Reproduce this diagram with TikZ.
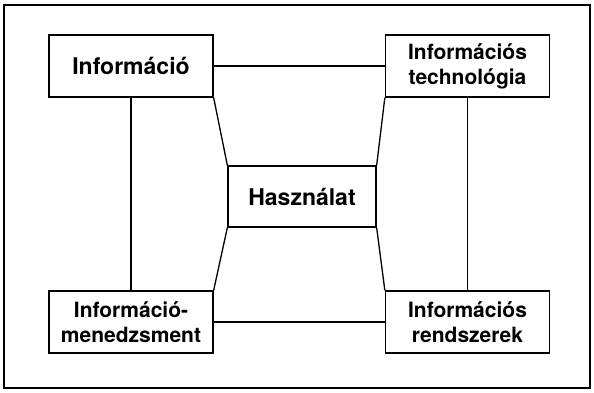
\documentclass[tikz,border=0pt]{standalone}
\usepackage{fontspec}
\setmainfont{TeX Gyre Heros}
\begin{document}
\begin{tikzpicture}[x=1pt,y=-1pt,
  boxa/.style={draw,line width=1.3pt,minimum width=164pt,minimum height=62pt,inner sep=0pt,align=center,font=\fontsize{23}{27}\selectfont\bfseries},
  boxb/.style={draw,line width=1.3pt,minimum width=164pt,minimum height=62pt,inner sep=0pt,align=center,font=\fontsize{21}{25}\selectfont\bfseries},
  conn/.style={line width=1.3pt}]
\useasboundingbox (0,0) rectangle (594,393);
\draw[line width=1.5pt] (4,5) rectangle (590,388);
\node[boxa] (info) at (131,66) {Információ};
\node[boxb] (tech) at (467.5,66) {Információs\\technológia};
\node[boxa,minimum width=148pt,minimum height=61pt] (hasz) at (302,196.5) {Használat};
\node[boxb] (men) at (131,322) {Információ-\\menedzsment};
\node[boxb] (rend) at (467.5,322) {Információs\\rendszerek};
\draw[conn] (info.east) -- (tech.west);
\draw[conn] (men.east) -- (rend.west);
\draw[conn] (info.south) -- (men.north);
\draw[conn] (tech.south) -- (rend.north);
\draw[conn] (info.south east) -- (hasz.north west);
\draw[conn] (tech.south west) -- (hasz.north east);
\draw[conn] (men.north east) -- (hasz.south west);
\draw[conn] (rend.north west) -- (hasz.south east);
\end{tikzpicture}
\end{document}
